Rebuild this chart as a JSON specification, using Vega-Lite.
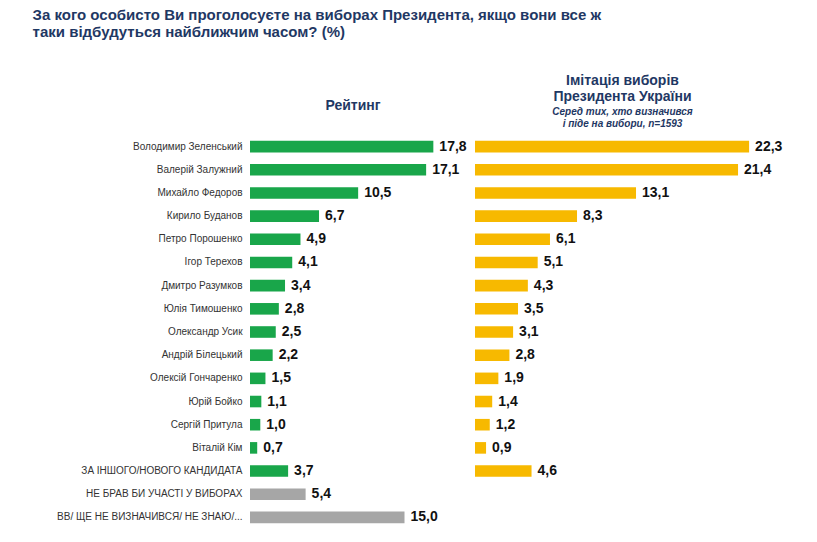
{
  "$schema": "https://vega.github.io/schema/vega-lite/v6.json",
  "background": "white",
  "padding": {"left": 32, "top": 8, "right": 10, "bottom": 5},
  "title": {
    "text": ["За кого особисто Ви проголосуєте на виборах Президента, якщо вони все ж", "таки відбудуться найближчим часом? (%)"],
    "anchor": "start", "font": "Liberation Sans", "fontSize": 15, "fontWeight": "bold", "color": "#1f3864", "offset": 34, "dx": -24
  },
  "config": {"view": {"stroke": null}, "font": "Liberation Sans",
    "locale": {"number": {"decimal": ",", "thousands": " ", "grouping": [3], "currency": ["", ""]}}},
  "datasets": {
    "rows": [
      {"name": "Володимир Зеленський", "rating": 17.8, "imit": 22.3, "grp": "c"},
      {"name": "Валерій Залужний", "rating": 17.1, "imit": 21.4, "grp": "c"},
      {"name": "Михайло Федоров", "rating": 10.5, "imit": 13.1, "grp": "c"},
      {"name": "Кирило Буданов", "rating": 6.7, "imit": 8.3, "grp": "c"},
      {"name": "Петро Порошенко", "rating": 4.9, "imit": 6.1, "grp": "c"},
      {"name": "Ігор Терехов", "rating": 4.1, "imit": 5.1, "grp": "c"},
      {"name": "Дмитро Разумков", "rating": 3.4, "imit": 4.3, "grp": "c"},
      {"name": "Юлія Тимошенко", "rating": 2.8, "imit": 3.5, "grp": "c"},
      {"name": "Олександр Усик", "rating": 2.5, "imit": 3.1, "grp": "c"},
      {"name": "Андрій Білецький", "rating": 2.2, "imit": 2.8, "grp": "c"},
      {"name": "Олексій Гончаренко", "rating": 1.5, "imit": 1.9, "grp": "c"},
      {"name": "Юрій Бойко", "rating": 1.1, "imit": 1.4, "grp": "c"},
      {"name": "Сергій Притула", "rating": 1.0, "imit": 1.2, "grp": "c"},
      {"name": "Віталій Кім", "rating": 0.7, "imit": 0.9, "grp": "c"},
      {"name": "ЗА ІНШОГО/НОВОГО КАНДИДАТА", "rating": 3.7, "imit": 4.6, "grp": "c"},
      {"name": "НЕ БРАВ БИ УЧАСТІ У ВИБОРАХ", "rating": 5.4, "imit": null, "grp": "o"},
      {"name": "ВВ/ ЩЕ НЕ ВИЗНАЧИВСЯ/ НЕ ЗНАЮ/...", "rating": 15.0, "imit": null, "grp": "o"}
    ]
  },
  "hconcat": [
    {
      "width": 206, "height": 394,
      "data": {"name": "rows"},
      "title": {"text": "Рейтинг", "fontSize": 14, "fontWeight": "bold", "color": "#1f3864", "anchor": "middle", "offset": 22},
      "encoding": {
        "y": {"field": "name", "type": "nominal", "sort": null, "title": null,
          "scale": {"paddingInner": 0.5, "paddingOuter": 0.25},
          "axis": {"ticks": false, "domain": false, "labelFontSize": 10, "labelColor": "#333", "labelPadding": 8, "labelLimit": 260}},
        "x": {"field": "rating", "type": "quantitative", "scale": {"domain": [0, 20]}, "axis": null}
      },
      "layer": [
        {"mark": "bar", "encoding": {"color": {"field": "grp", "type": "nominal", "scale": {"domain": ["c", "o"], "range": ["#19a64a", "#a6a6a6"]}, "legend": null}}},
        {"mark": {"type": "text", "align": "left", "dx": 6, "fontSize": 14, "fontWeight": "bold", "color": "#111"},
          "encoding": {"text": {"field": "rating", "type": "quantitative", "format": ".1f"}}}
      ]
    },
    {
      "width": 295, "height": 394,
      "data": {"name": "rows"},
      "transform": [{"filter": "datum.imit != null"}],
      "title": {"text": ["Імітація виборів", "Президента України"], "subtitle": ["Серед тих, хто визначився", "і піде на вибори, n=1593"],
        "fontSize": 14, "fontWeight": "bold", "color": "#1f3864", "subtitleFontStyle": "italic", "subtitleFontSize": 10, "subtitleColor": "#1f3864", "subtitleFontWeight": "bold", "anchor": "middle", "offset": 6},
      "encoding": {
        "y": {"field": "name", "type": "nominal", "sort": null, "title": null,
          "scale": {"paddingInner": 0.5, "paddingOuter": 0.25,
            "domain": ["Володимир Зеленський", "Валерій Залужний", "Михайло Федоров", "Кирило Буданов", "Петро Порошенко", "Ігор Терехов", "Дмитро Разумков", "Юлія Тимошенко", "Олександр Усик", "Андрій Білецький", "Олексій Гончаренко", "Юрій Бойко", "Сергій Притула", "Віталій Кім", "ЗА ІНШОГО/НОВОГО КАНДИДАТА", "НЕ БРАВ БИ УЧАСТІ У ВИБОРАХ", "ВВ/ ЩЕ НЕ ВИЗНАЧИВСЯ/ НЕ ЗНАЮ/..."]},
          "axis": null},
        "x": {"field": "imit", "type": "quantitative", "scale": {"domain": [0, 24]}, "axis": null}
      },
      "layer": [
        {"mark": {"type": "bar", "color": "#f7b900"}},
        {"mark": {"type": "text", "align": "left", "dx": 6, "fontSize": 14, "fontWeight": "bold", "color": "#111"},
          "encoding": {"text": {"field": "imit", "type": "quantitative", "format": ".1f"}}}
      ]
    }
  ],
  "spacing": 19,
  "bounds": "flush",
  "resolve": {"scale": {"x": "independent", "y": "independent"}}
}
